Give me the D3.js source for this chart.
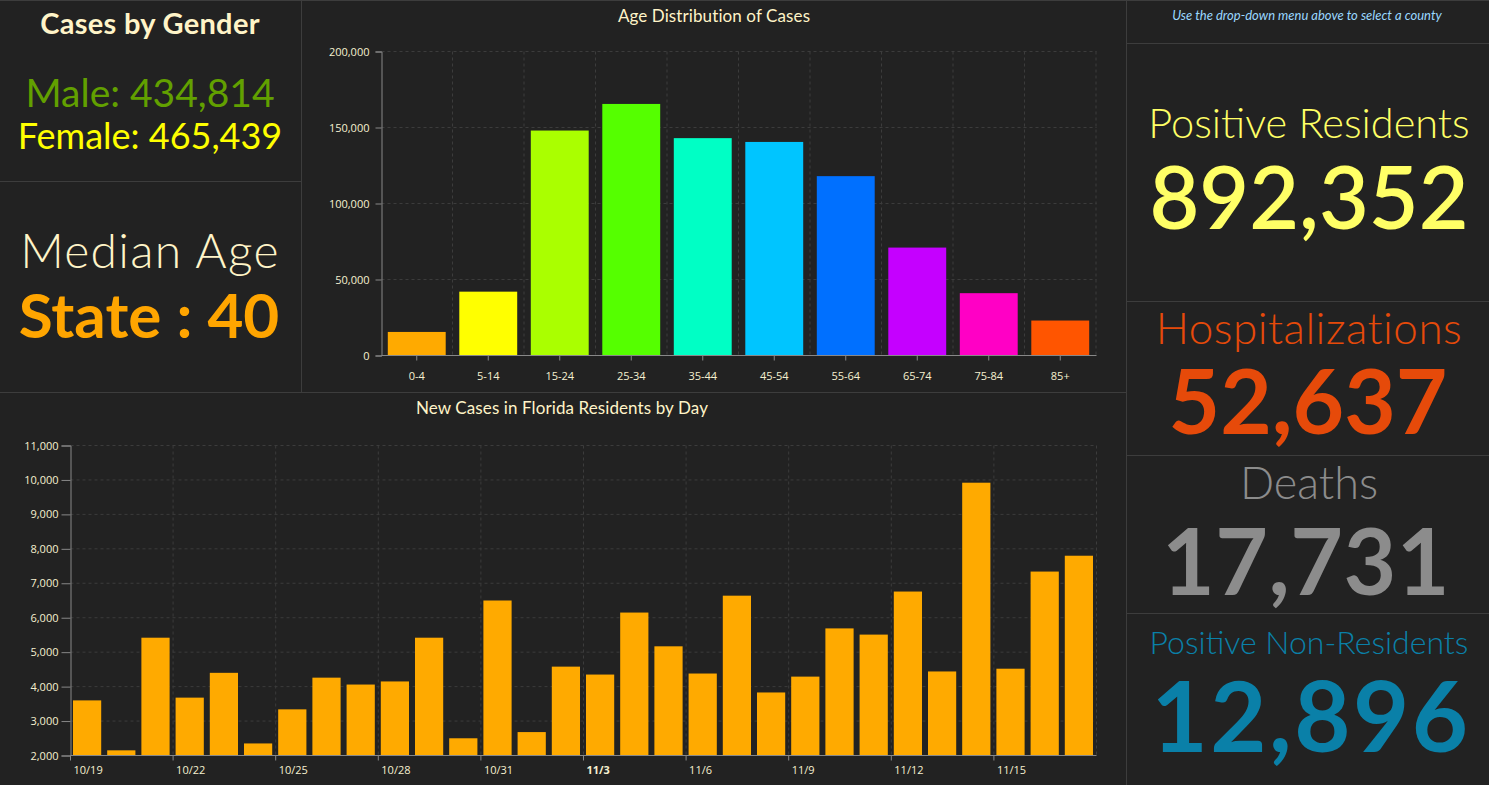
<!DOCTYPE html>
<html>
<head>
<meta charset="utf-8">
<script src="https://cdn.jsdelivr.net/npm/d3@7"></script>
<style>
  html, body { margin: 0; padding: 0; background: #222; overflow: hidden; }
  text { font-family: Lato, "Open Sans", sans-serif; }
  .tick text { font-family: "Open Sans", sans-serif; font-size: 11px; fill: #f5f0d0; }
  .domain { stroke: #888; }
  .tick line { stroke: #888; }
  .grid line { stroke: #3c3c3c; stroke-dasharray: 3 3; }
  .rule { stroke: #3d3d3d; stroke-width: 1; }
</style>
</head>
<body>
<svg id="dash" width="1489" height="785"></svg>
<script>
// age chart data
var ageGroups = ["0-4", "5-14", "15-24", "25-34", "35-44", "45-54", "55-64", "65-74", "75-84", "85+"];
var ageCases = [15500, 42000, 148000, 165500, 143000, 140500, 118000, 71000, 41000, 23000];
var ageColors = ["#ffaa00", "#ffff00", "#aaff00", "#55ff00", "#00ffc5", "#00c5ff", "#0070ff", "#c500ff", "#ff00c5", "#ff5500"];
var ageTicks = [0, 50000, 100000, 150000, 200000];

// daily chart data
var days = ["10/19", "10/20", "10/21", "10/22", "10/23", "10/24", "10/25", "10/26", "10/27", "10/28",
  "10/29", "10/30", "10/31", "11/1", "11/2", "11/3", "11/4", "11/5", "11/6", "11/7",
  "11/8", "11/9", "11/10", "11/11", "11/12", "11/13", "11/14", "11/15", "11/16", "11/17"];
var dayCases = [3600, 2150, 5420, 3680, 4400, 2350, 3340, 4260, 4060, 4150,
  5420, 2500, 6500, 2680, 4580, 4350, 6150, 5170, 4380, 6640,
  3830, 4290, 5690, 5510, 6760, 4440, 9920, 4520, 7340, 7800];
var dayTicks = [2000, 3000, 4000, 5000, 6000, 7000, 8000, 9000, 10000, 11000];

var svg = d3.select("#dash");
var fmt = d3.format(",");

// panel rules
var rules = [[0, 0.5, 1489, 0.5], [301.5, 0, 301.5, 392], [0, 181.5, 301, 181.5], [0, 392.5, 1126, 392.5],
  [1126.5, 0, 1126.5, 785], [1127, 43.5, 1489, 43.5], [1127, 301.5, 1489, 301.5], [1127, 455.5, 1489, 455.5], [1127, 613.5, 1489, 613.5]];
svg.selectAll("line.rule").data(rules).enter().append("line")
  .attr("class", "rule")
  .attr("x1", function(d) { return d[0]; })
  .attr("y1", function(d) { return d[1]; })
  .attr("x2", function(d) { return d[2]; })
  .attr("y2", function(d) { return d[3]; });

// text blocks
var labels = [
  { t: "Cases by Gender", x: 150, y: 34, s: 29, ls: 0.3, w: 700, c: "#fff4c8" },
  { t: "Male: 434,814", x: 150, y: 107, s: 39, w: 400, c: "#62a000" },
  { t: "Female: 465,439", x: 150, y: 149, s: 36, w: 400, c: "#ffff00" },
  { t: "Median Age", x: 150, y: 268, s: 48, ls: 1.3, w: 300, c: "#fff4c8" },
  { t: "State : 40", x: 149, y: 338, s: 62, w: 700, c: "#ffa500" },
  { t: "Age Distribution of Cases", x: 714, y: 22, s: 17, ls: 0.1, w: 400, c: "#fff4c8" },
  { t: "New Cases in Florida Residents by Day", x: 562, y: 414, s: 17, ls: 0.1, w: 400, c: "#fff4c8" },
  { t: "Use the drop-down menu above to select a county", x: 1307, y: 20, s: 13, w: 400, c: "#9ad8ff", i: true },
  { t: "Positive Residents", x: 1309, y: 138, s: 41.5, w: 300, c: "#ffff66" },
  { t: "892,352", x: 1309, y: 229, s: 86, w: 600, c: "#ffff66" },
  { t: "Hospitalizations", x: 1309, y: 344, s: 44, ls: 0.5, w: 300, c: "#e64a0a" },
  { t: "52,637", x: 1308, y: 434, s: 89, w: 700, c: "#e64a0a" },
  { t: "Deaths", x: 1309, y: 499, s: 45, w: 300, c: "#8c8c8c" },
  { t: "17,731", x: 1306, y: 595, s: 91, ls: 0.5, w: 700, c: "#8c8c8c" },
  { t: "Positive Non-Residents", x: 1309, y: 654, s: 32, w: 300, c: "#0a80a8" },
  { t: "12,896", x: 1311, y: 752, s: 97, ls: 2.5, w: 700, c: "#0a80a8" }
];
svg.selectAll("text.label").data(labels).enter().append("text")
  .attr("class", "label")
  .attr("text-anchor", "middle")
  .attr("x", function(d) { return d.x; })
  .attr("y", function(d) { return d.y; })
  .attr("font-size", function(d) { return d.s; })
  .attr("font-weight", function(d) { return d.w; })
  .attr("font-style", function(d) { return d.i ? "italic" : "normal"; })
  .attr("letter-spacing", function(d) { return d.ls || 0; })
  .attr("fill", function(d) { return d.c; })
  .text(function(d) { return d.t; });

// age distribution
var ageX = d3.scaleBand().domain(ageGroups).range([381, 1096]).paddingInner(0.19).paddingOuter(0.095);
var ageY = d3.scaleLinear().domain([0, 200000]).range([355.5, 51.5]);

var ageGrid = svg.append("g").attr("class", "grid");
ageGrid.selectAll("line.h").data(ageTicks.slice(1)).enter().append("line")
  .attr("x1", 381.5).attr("x2", 1096.5)
  .attr("y1", function(d) { return ageY(d); })
  .attr("y2", function(d) { return ageY(d); });
ageGrid.selectAll("line.v").data(ageGroups).enter().append("line")
  .attr("y1", 51.5).attr("y2", 355.5)
  .attr("x1", function(d) { return ageX(d) + ageX.bandwidth() + ageX.step() * 0.095; })
  .attr("x2", function(d) { return ageX(d) + ageX.bandwidth() + ageX.step() * 0.095; });

svg.selectAll("rect.age").data(ageGroups).enter().append("rect")
  .attr("class", "age")
  .attr("x", function(d) { return ageX(d); })
  .attr("width", ageX.bandwidth())
  .attr("y", function(d, i) { return ageY(ageCases[i]); })
  .attr("height", function(d, i) { return ageY(0) - ageY(ageCases[i]); })
  .attr("fill", function(d, i) { return ageColors[i]; });

svg.append("g")
  .attr("transform", "translate(0,355.5)")
  .call(d3.axisBottom(ageX).tickSize(5).tickPadding(12))
  .call(function(g) { g.select(".domain").attr("d", "M381.5,0H1096.5"); });
svg.append("g")
  .attr("transform", "translate(381.5,0)")
  .call(d3.axisLeft(ageY).tickValues(ageTicks).tickFormat(fmt).tickSize(6).tickPadding(6));

// daily cases
var dayX = d3.scaleBand().domain(days).range([70, 1096]).paddingInner(0.175).paddingOuter(0.0875);
var dayY = d3.scaleLinear().domain([2000, 11000]).range([755.5, 445.5]);
var tickDays = days.filter(function(d, i) { return i % 3 === 0; });
function dayEdge(d) { return 70.5 + days.indexOf(d) * dayX.step(); }

var dayGrid = svg.append("g").attr("class", "grid");
dayGrid.selectAll("line.h").data(dayTicks.slice(1)).enter().append("line")
  .attr("x1", 70.5).attr("x2", 1096.5)
  .attr("y1", function(d) { return dayY(d); })
  .attr("y2", function(d) { return dayY(d); });
dayGrid.selectAll("line.v").data(tickDays.slice(1).concat(["end"])).enter().append("line")
  .attr("y1", 445.5).attr("y2", 755.5)
  .attr("x1", function(d) { return d === "end" ? 1096.5 : dayEdge(d); })
  .attr("x2", function(d) { return d === "end" ? 1096.5 : dayEdge(d); });

svg.selectAll("rect.day").data(days).enter().append("rect")
  .attr("class", "day")
  .attr("x", function(d) { return dayX(d); })
  .attr("width", dayX.bandwidth())
  .attr("y", function(d, i) { return dayY(dayCases[i]); })
  .attr("height", function(d, i) { return dayY(2000) - dayY(dayCases[i]); })
  .attr("fill", "#ffaa00");

var dayAxis = svg.append("g")
  .attr("transform", "translate(0,755.5)")
  .call(d3.axisBottom(dayX).tickValues(tickDays).tickSize(5).tickPadding(6))
  .call(function(g) { g.select(".domain").attr("d", "M70.5,0H1096.5"); });
dayAxis.selectAll(".tick").attr("transform", function(d) { return "translate(" + dayEdge(d) + ",0)"; });
dayAxis.selectAll(".tick text")
  .attr("text-anchor", "start")
  .attr("x", 3)
  .style("font-weight", function(d) { return d === "11/3" ? 700 : 400; });
svg.append("g")
  .attr("transform", "translate(70.5,0)")
  .call(d3.axisLeft(dayY).tickValues(dayTicks).tickFormat(fmt).tickSize(9).tickPadding(3));
</script>
</body>
</html>
